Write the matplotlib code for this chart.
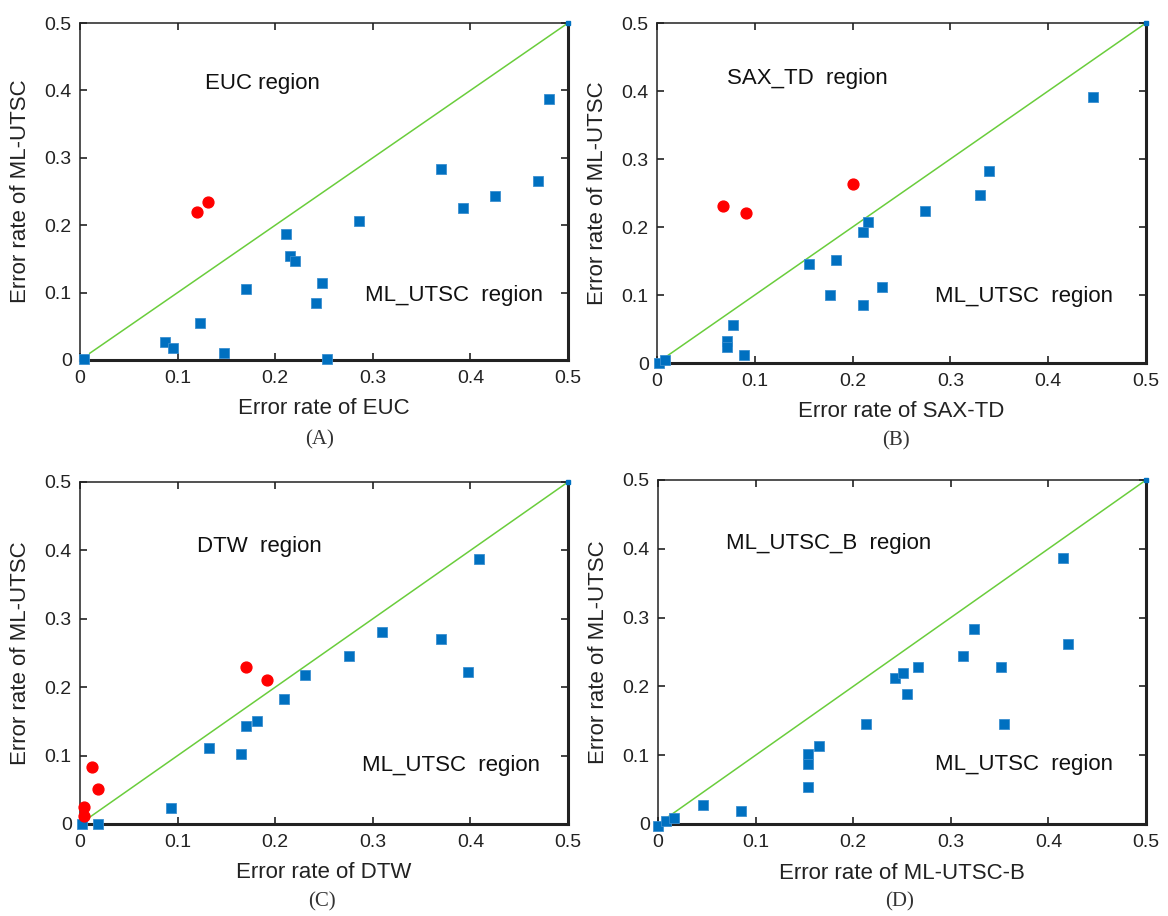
import matplotlib
matplotlib.use("Agg")
import matplotlib.pyplot as plt

plt.rcParams['font.family'] = ['Liberation Sans', 'DejaVu Sans']

# ---- data ----
# Panel A: EUC vs ML-UTSC
a_sq_x = [0.004, 0.087, 0.095, 0.123, 0.148, 0.170, 0.211, 0.215, 0.220, 0.242, 0.248, 0.253,
          0.286, 0.370, 0.392, 0.425, 0.469, 0.481]
a_sq_y = [0.002, 0.027, 0.018, 0.055, 0.010, 0.106, 0.187, 0.155, 0.147, 0.084, 0.114, 0.002,
          0.206, 0.283, 0.225, 0.243, 0.266, 0.387]
a_ci_x = [0.120, 0.131]
a_ci_y = [0.219, 0.235]

# Panel B: SAX-TD vs ML-UTSC
b_sq_x = [0.002, 0.008, 0.072, 0.072, 0.078, 0.089, 0.155, 0.183, 0.177, 0.211, 0.216, 0.211,
          0.230, 0.274, 0.330, 0.339, 0.446]
b_sq_y = [0.000, 0.004, 0.033, 0.024, 0.056, 0.012, 0.146, 0.152, 0.100, 0.192, 0.207, 0.085,
          0.112, 0.223, 0.247, 0.283, 0.391]
b_ci_x = [0.067, 0.091, 0.200]
b_ci_y = [0.231, 0.220, 0.263]

# Panel C: DTW vs ML-UTSC
c_sq_x = [0.002, 0.018, 0.093, 0.132, 0.165, 0.170, 0.181, 0.209, 0.231, 0.276, 0.309, 0.370,
          0.398, 0.409]
c_sq_y = [0.000, 0.000, 0.024, 0.111, 0.103, 0.143, 0.150, 0.183, 0.218, 0.246, 0.281, 0.270,
          0.222, 0.388]
c_ci_x = [0.004, 0.004, 0.012, 0.018, 0.170, 0.192]
c_ci_y = [0.012, 0.025, 0.084, 0.051, 0.230, 0.211]

# Panel D: ML-UTSC-B vs ML-UTSC
d_sq_x = [0.000, 0.008, 0.016, 0.046, 0.085, 0.154, 0.154, 0.154, 0.165, 0.213, 0.243, 0.251,
          0.255, 0.266, 0.312, 0.324, 0.351, 0.354, 0.415, 0.420]
d_sq_y = [-0.003, 0.004, 0.008, 0.027, 0.019, 0.054, 0.087, 0.102, 0.114, 0.146, 0.212, 0.220,
          0.189, 0.228, 0.244, 0.283, 0.228, 0.146, 0.386, 0.262]
d_ci_x = []
d_ci_y = []

diag_x = [0.01, 0.5]
diag_y = [0.01, 0.5]

ticks = [0, 0.1, 0.2, 0.3, 0.4, 0.5]
tick_labels = ['0', '0.1', '0.2', '0.3', '0.4', '0.5']

panels = [
    dict(sx=a_sq_x, sy=a_sq_y, cx=a_ci_x, cy=a_ci_y, xlabel='Error rate of EUC', tag='(A)',
         top_text='EUC region', top_pos=(0.128, 0.41), bot_pos=(0.292, 0.095),
         rect=[80, 23, 568, 360], tag_x=320, tag_y=440),
    dict(sx=b_sq_x, sy=b_sq_y, cx=b_ci_x, cy=b_ci_y, xlabel='Error rate of SAX-TD', tag='(B)',
         top_text='SAX_TD  region', top_pos=(0.072, 0.419), bot_pos=(0.284, 0.098),
         rect=[657, 23, 1146, 363], tag_x=896, tag_y=441),
    dict(sx=c_sq_x, sy=c_sq_y, cx=c_ci_x, cy=c_ci_y, xlabel='Error rate of DTW', tag='(C)',
         top_text='DTW  region', top_pos=(0.120, 0.406), bot_pos=(0.289, 0.085),
         rect=[80, 482, 568, 824], tag_x=322, tag_y=902),
    dict(sx=d_sq_x, sy=d_sq_y, cx=d_ci_x, cy=d_ci_y, xlabel='Error rate of ML-UTSC-B', tag='(D)',
         top_text='ML_UTSC_B  region', top_pos=(0.070, 0.407), bot_pos=(0.284, 0.087),
         rect=[658, 480, 1146, 824], tag_x=900, tag_y=902),
]

W, H = 1168, 916
fig = plt.figure(figsize=(W / 100, H / 100), dpi=100)

blue = '#0070C0'
red = '#FF0000'
green = '#6ACD3C'

for p in panels:
    l, t, r, b = p['rect']
    ax = fig.add_axes([l / W, 1 - b / H, (r - l) / W, (b - t) / H])
    ax.plot(diag_x, diag_y, color=green, lw=1.1, zorder=2)
    ax.plot([0.5], [0.5], 's', color=blue, ms=2.5, clip_on=False, zorder=3)
    ax.plot(p['sx'], p['sy'], 's', color=blue, ms=7.5, mec='#3a8fd0', mew=0.6,
            linestyle='none', clip_on=False, zorder=4)
    if p['cx']:
        ax.plot(p['cx'], p['cy'], 'o', color=red, ms=7.8, mec=red,
                linestyle='none', clip_on=False, zorder=4)
    ax.set_xlim(0, 0.5)
    ax.set_ylim(0, 0.5)
    ax.set_xticks(ticks)
    ax.set_xticklabels(tick_labels)
    ax.set_yticks(ticks)
    ax.set_yticklabels(tick_labels)
    ax.tick_params(direction='in', top=True, right=True, length=5, width=1.2,
                   labelsize=14, color='#222222', labelcolor='#222222')
    ax.tick_params(axis='x', pad=7)
    ax.tick_params(axis='y', pad=6)
    for side in ['top', 'left']:
        ax.spines[side].set_linewidth(1.1)
        ax.spines[side].set_color('#222222')
    for side in ['bottom', 'right']:
        ax.spines[side].set_linewidth(2.2)
        ax.spines[side].set_color('#222222')
    ax.set_xlabel(p['xlabel'], fontsize=16, color='#222222')
    ax.set_ylabel('Error rate of ML-UTSC', fontsize=16, color='#222222')
    ax.xaxis.set_label_coords(0.5, -0.112)
    ax.yaxis.set_label_coords(-0.100, 0.5)
    ax.text(p['top_pos'][0], p['top_pos'][1], p['top_text'], fontsize=16,
            ha='left', va='center', color='#111111')
    ax.text(p['bot_pos'][0], p['bot_pos'][1], 'ML_UTSC  region', fontsize=16,
            ha='left', va='center', color='#111111')
    fig.text(p['tag_x'] / W, 1 - p['tag_y'] / H, p['tag'], fontsize=15,
             family=['Liberation Serif', 'DejaVu Serif'], ha='center', va='center',
             color='#333333')

fig.savefig('out.png', dpi=100)
